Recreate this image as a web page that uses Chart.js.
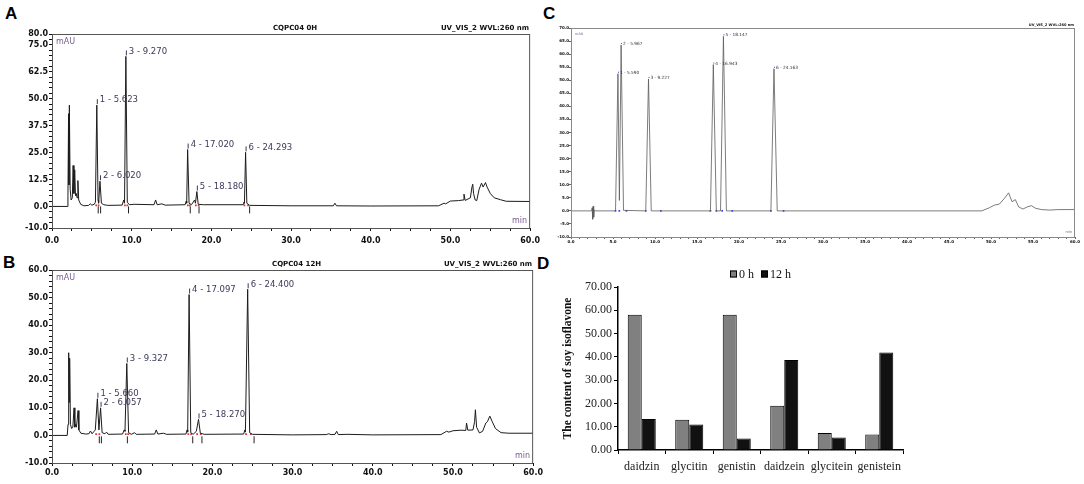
<!DOCTYPE html>
<html>
<head>
<meta charset="utf-8">
<script src="https://cdn.jsdelivr.net/npm/chart.js@4.4.1/dist/chart.umd.min.js"></script>
<style>
  html, body { margin: 0; padding: 0; background: #fff; }
  #fig { position: relative; width: 1084px; height: 484px; overflow: hidden; }
  #fig canvas { position: absolute; }
  .tag { position: absolute; font: bold 17px "Liberation Sans", Arial, sans-serif; line-height: 17px; color: #000; }
</style>
</head>
<body>
<div id="fig">
  <div class="tag" style="left:5px;top:5px">A</div>
  <div class="tag" style="left:3px;top:254px">B</div>
  <div class="tag" style="left:543px;top:5px">C</div>
  <div class="tag" style="left:537px;top:255px">D</div>
  <canvas id="chartA" width="545" height="250" style="left:0;top:0"></canvas>
  <canvas id="chartB" width="545" height="234" style="left:0;top:250px"></canvas>
  <canvas id="chartC" width="539" height="250" style="left:545px;top:0"></canvas>
  <canvas id="chartD" width="375" height="234" style="left:550px;top:250px"></canvas>
</div>
<script>
// ---- A: sample CQPC04 0H, [time (min), signal (mAU)]
const traceA = [
  [0, 0], [1.9, 0], [2.0, 5], [2.08, 43], [2.13, 10], [2.18, 47], [2.28, 8], [2.4, 3],
  [2.55, 4], [2.65, 19], [2.75, 6], [2.85, 17], [2.95, 5], [3.05, 6], [3.15, 4], [3.25, 12],
  [3.35, 3], [3.6, 1], [4.0, 0.3], [4.6, 0.5], [4.8, 1.2], [5.0, 0.6], [5.3, 1], [5.45, 2],
  [5.623, 47], [5.78, 3], [5.85, 1.5], [6.02, 11.7], [6.2, 1.5], [6.5, 0.8], [7.0, 0.5],
  [8.8, 0.6], [9.0, 3], [9.1, 1.5], [9.27, 69.6], [9.45, 2], [9.7, 0.8], [10.3, 1],
  [12.8, 0.8], [13.0, 3], [13.2, 0.8], [13.8, 1.2], [14.2, 0.6], [16.7, 0.8], [16.85, 2.5],
  [16.9, 1.5], [17.02, 26.4], [17.2, 1.5], [17.5, 0.8], [17.9, 3], [18.0, 1.5], [18.18, 6.9],
  [18.35, 1], [19.0, 0.8], [24.0, 0.8], [24.1, 2], [24.15, 1.5], [24.293, 25.1], [24.45, 1.5],
  [24.8, 0.5], [30.0, 0.3], [35.3, 0.3], [35.5, 1.5], [35.7, 0.3], [40.0, 0.2], [48.5, 0.3],
  [49.2, 1.5], [49.4, 1.2], [50.0, 2.5], [51.0, 2.7], [51.6, 3], [51.7, 5.7], [51.85, 2.8],
  [52.5, 4], [52.7, 9], [52.8, 10.3], [52.9, 6], [53.1, 3], [53.3, 2.7], [53.6, 8],
  [53.9, 10.8], [54.1, 9], [54.4, 11.1], [54.6, 9], [55.0, 6], [55.5, 4], [56.3, 3.1],
  [57.0, 2.4], [60.0, 2.3]
];
const peakTimesA = [5.623, 6.020, 9.270, 17.020, 18.180, 24.293];
const peakHeightsA = [47.0, 11.7, 69.6, 26.4, 6.9, 25.1];
const peakEndsA = [5.8, 6.1, 9.6, 17.35, 18.45, 24.8];
const baseMarksA = [5.55, 5.85, 9.15, 9.45, 17.05, 17.3, 18.05, 18.4, 24.15, 24.6];
const yLabelsA = [-10, 0, 12.5, 25, 37.5, 50, 62.5, 75, 80];

// ---- B: sample CQPC04 12H
const traceB = [
  [0, 0], [1.9, 0], [2.0, 4], [2.08, 30], [2.13, 12], [2.2, 28], [2.3, 4], [2.45, 2.5],
  [2.6, 3], [2.75, 10], [2.85, 3], [2.95, 4], [3.05, 3], [3.25, 9], [3.35, 2], [3.6, 0.8],
  [4.2, 0.5], [4.6, 0.6], [4.8, 1.6], [5.0, 0.6], [5.25, 1.5], [5.4, 2], [5.66, 13.3],
  [5.85, 2], [6.057, 10], [6.25, 1], [6.6, 0.6], [6.8, 1.2], [7.0, 0.4], [8.8, 0.5],
  [9.0, 2], [9.1, 1.5], [9.327, 26.1], [9.55, 1], [9.9, 0.4], [10.3, 1], [10.5, 0.4],
  [12.8, 0.5], [13.0, 2], [13.2, 0.5], [13.9, 0.8], [14.3, 0.4], [16.7, 0.5], [16.85, 2],
  [16.92, 1.2], [17.097, 51.1], [17.3, 1], [17.6, 0.4], [18.0, 1.5], [18.27, 5.8], [18.5, 0.8],
  [19.0, 0.4], [23.9, 0.5], [24.05, 2], [24.12, 1.2], [24.4, 53], [24.65, 1], [25.0, 0.4],
  [30.0, 0.2], [34.2, 0.3], [34.5, 0.6], [34.8, 0.3], [35.3, 0.4], [35.5, 1.5], [35.7, 0.3],
  [36.8, 0.4], [40.0, 0.2], [48.5, 0.3], [49.2, 1.5], [49.5, 1.2], [50.0, 1.7], [51.0, 1.9],
  [51.6, 1.8], [51.7, 4.5], [51.85, 1.9], [52.5, 2], [52.7, 5], [52.8, 9.3], [52.95, 3],
  [53.3, 0.9], [53.7, 1.5], [54.1, 4.5], [54.3, 5], [54.6, 7], [54.9, 5], [55.3, 2.5],
  [56.0, 1], [57.0, 0.8], [60.0, 0.8]
];
const peakTimesB = [5.660, 6.057, 9.327, 17.097, 18.270, 24.400];
const peakHeightsB = [13.3, 10.0, 26.1, 51.1, 5.8, 53.0];
const peakEndsB = [5.9, 6.16, 9.4, 17.55, 18.7, 25.2];
const baseMarksB = [5.5, 5.9, 9.2, 9.5, 17.0, 17.35, 18.1, 18.55, 24.2, 24.8];
const yLabelsB = [-10, 0, 10, 20, 30, 40, 50, 60];

// ---- C: standard mixture
const traceC = [
  [0, 0], [2.45, 0], [2.52, 1.2], [2.58, -3.2], [2.64, 1.8], [2.7, -2.4], [2.78, 0.4], [2.9, 0],
  [5.3, 0], [5.59, 52.5], [5.76, 4], [5.967, 63.5], [6.25, 0.2], [8.9, 0], [9.227, 50.5],
  [9.55, 0], [16.6, 0], [16.943, 56.0], [17.3, 0], [17.8, 0], [18.147, 66.8], [18.5, 0],
  [23.8, 0], [24.163, 54.4], [24.55, 0], [48.9, 0], [49.8, 1.2], [50.4, 2.2], [51.0, 2.6],
  [51.6, 4.8], [52.1, 6.9], [52.5, 3.5], [52.9, 4.3], [53.3, 1.5], [53.8, 0.7], [54.3, 1.5],
  [54.8, 2.0], [55.3, 1.0], [56.0, 0.5], [57.0, 0.3], [58.0, 0.5], [60.0, 0.5]
];
const peakTimesC = [5.590, 5.967, 9.227, 16.943, 18.147, 24.163];
const peakHeightsC = [52.5, 63.5, 50.5, 56.0, 66.8, 54.4];
const baseMarksC = [5.3, 5.75, 6.6, 8.9, 10.7, 16.6, 17.3, 18.0, 19.2, 23.8, 25.3];
const yLabelsC = [-10, -5, 0, 5, 10, 15, 20, 25, 30, 35, 40, 45, 50, 55, 60, 65, 70];

const xLabels10 = [0, 10, 20, 30, 40, 50, 60];
const xLabels5 = [0, 5, 10, 15, 20, 25, 30, 35, 40, 45, 50, 55, 60];

// ---- D: isoflavone content
const compounds = ['daidzin', 'glycitin', 'genistin', 'daidzein', 'glycitein', 'genistein'];
const content0h = [58.1, 13.0, 58.1, 19.0, 7.3, 6.7];
const content12h = [13.3, 10.9, 4.9, 38.6, 5.4, 41.9];

const SANS = '"DejaVu Sans", "Liberation Sans", Arial, sans-serif';
const SERIF = '"Liberation Serif", "Times New Roman", serif';

function steps(min, max, step) {
  const out = [];
  for (let v = min; v <= max + 1e-9; v += step) out.push({ value: +v.toFixed(3) });
  return out;
}

// frame, header texts, units and peak labels of the chromatograms
const chromDecor = {
  id: 'chromDecor',
  afterDraw(chart, args, o) {
    const { ctx, chartArea: a, scales: { x, y } } = chart;
    ctx.save();
    ctx.strokeStyle = o.frameColor;
    ctx.lineWidth = 1;
    ctx.strokeRect(a.left + 0.5, a.top + 0.5, a.width - 1, a.height);

    ctx.fillStyle = '#111';
    ctx.font = `bold ${o.headSize}px ${SANS}`;
    ctx.textBaseline = 'bottom';
    if (o.title) {
      ctx.textAlign = 'center';
      ctx.fillText(o.title, x.getPixelForValue(o.titleAt), a.top - o.headGap);
    }
    ctx.textAlign = 'right';
    ctx.fillText('UV_VIS_2 WVL:260 nm', a.right - 1, a.top - o.headGap);

    ctx.fillStyle = '#7a5a8e';
    ctx.font = `${o.unitSize}px ${SANS}`;
    ctx.textAlign = 'left';
    ctx.textBaseline = 'top';
    ctx.fillText('mAU', a.left + 4, a.top + 4);
    ctx.textAlign = 'right';
    ctx.textBaseline = 'bottom';
    ctx.fillText('min', a.right - 3, a.bottom - 3);

    ctx.font = `${o.labelSize}px ${SANS}`;
    ctx.textAlign = 'left';
    ctx.textBaseline = 'middle';
    o.times.forEach((t, i) => {
      const px = x.getPixelForValue(t);
      const py = y.getPixelForValue(o.heights[i]);
      ctx.strokeStyle = o.markColor;
      ctx.beginPath();
      ctx.moveTo(px + 0.5, py - 1);
      ctx.lineTo(px + 0.5, py - o.tick);
      ctx.stroke();
      ctx.fillStyle = o.labelColor;
      ctx.fillText(`${i + 1} - ${t.toFixed(3)}`, px + o.gap, py - o.lift);
    });
    ctx.restore();
  }
};

function chromChart(id, c) {
  const tickFont = { family: SANS, size: c.tickSize, weight: 'bold' };
  return new Chart(document.getElementById(id), {
    type: 'line',
    data: {
      datasets: [
        { data: c.trace.map(([x, y]) => ({ x, y })), borderColor: c.lineColor, borderWidth: c.lineWidth,
          pointRadius: 0, tension: 0 },
        { type: 'scatter', data: c.ends.map(t => ({ x: t, y: -1.6 })), pointStyle: 'line', pointRotation: 90,
          pointRadius: 3.5, pointBorderColor: '#222', pointBorderWidth: 1 },
        { type: 'scatter', data: c.marks.map(t => ({ x: t, y: c.markY })), pointStyle: 'rect',
          pointRadius: c.markSize, pointBackgroundColor: c.markColor, pointBorderWidth: 0 }
      ]
    },
    options: {
      responsive: false,
      animation: false,
      layout: { padding: { left: 0, right: c.padRight, top: c.padTop, bottom: 0 } },
      plugins: {
        legend: { display: false },
        tooltip: { enabled: false },
        chromDecor: {
          frameColor: c.frameColor, title: c.title, titleAt: 30.5, headSize: c.headSize, headGap: c.headGap,
          unitSize: c.unitSize, labelSize: c.labelSize, labelColor: c.labelColor, markColor: c.labelMark,
          times: c.peakTimes, heights: c.peakHeights, tick: c.labelTick, gap: c.labelGap, lift: c.labelLift
        }
      },
      scales: {
        x: {
          type: 'linear', min: 0, max: 60,
          afterBuildTicks: s => { s.ticks = steps(0, 60, c.xStep); },
          afterFit: s => { s.height = c.xHeight; },
          ticks: { autoSkip: false, maxRotation: 0, padding: c.xPad, color: '#111', font: tickFont,
                   callback: v => c.xLabels.includes(v) ? v.toFixed(1) : '' },
          grid: { drawOnChartArea: false, tickLength: c.tickLen, color: c.axisColor },
          border: { color: c.axisColor }
        },
        y: {
          min: c.yMin, max: c.yMax,
          afterBuildTicks: s => { s.ticks = steps(c.yMin, c.yMax, c.yStep); },
          afterFit: s => { s.width = c.yWidth; },
          ticks: { autoSkip: false, padding: c.yPad, color: '#111', font: tickFont,
                   callback: v => c.yLabels.includes(v) ? v.toFixed(1) : '' },
          grid: { drawOnChartArea: false, tickLength: c.tickLen, color: c.axisColor },
          border: { color: c.axisColor }
        }
      }
    },
    plugins: [chromDecor]
  });
}

const sampleStyle = {
  lineColor: '#1c1c1c', lineWidth: 1, frameColor: '#555', axisColor: '#111',
  markY: 0.5, markSize: 1.2, markColor: '#e03030',
  tickSize: 8, headSize: 7, headGap: 2, unitSize: 8, labelSize: 8.5, labelColor: '#3a3a58',
  labelMark: '#3a3a58', labelTick: 6, labelGap: 3, labelLift: 5,
  xStep: 2.5, xLabels: xLabels10, tickLen: 3, yPad: 1, yWidth: 52
};

chromChart('chartA', Object.assign({}, sampleStyle, {
  trace: traceA, ends: peakEndsA, marks: baseMarksA, peakTimes: peakTimesA, peakHeights: peakHeightsA,
  title: 'CQPC04 0H', yMin: -10, yMax: 80, yStep: 2.5, yLabels: yLabelsA,
  padRight: 11, padTop: 34, xHeight: 22, xPad: 5
}));

chromChart('chartB', Object.assign({}, sampleStyle, {
  trace: traceB, ends: peakEndsB, marks: baseMarksB, peakTimes: peakTimesB, peakHeights: peakHeightsB,
  title: 'CQPC04 12H', yMin: -10, yMax: 60, yStep: 2, yLabels: yLabelsB,
  padRight: 10, padTop: 20, xHeight: 21, xPad: 2
}));

chromChart('chartC', {
  trace: traceC, ends: [], marks: baseMarksC, peakTimes: peakTimesC, peakHeights: peakHeightsC,
  lineColor: '#5a5a5a', lineWidth: 0.8, frameColor: '#8a8a8a', axisColor: '#666',
  markY: 0, markSize: 1.2, markColor: '#3b3bff',
  tickSize: 4, headSize: 3.6, headGap: 1.5, unitSize: 3.5, labelSize: 4.3, labelColor: '#333',
  labelMark: '#3b3bff', labelTick: 2, labelGap: 2, labelLift: 1,
  title: '', yMin: -10, yMax: 70, yStep: 5, yLabels: yLabelsC,
  xStep: 1, xLabels: xLabels5, tickLen: 2, yPad: 0, yWidth: 26,
  padRight: 9, padTop: 28, xHeight: 13, xPad: 1
});

// legend drawn above the plot, centred on the chart area
const keyAbove = {
  id: 'keyAbove',
  afterDraw(chart, args, o) {
    const { ctx, chartArea: a } = chart;
    ctx.save();
    ctx.font = `${o.size}px ${SERIF}`;
    ctx.textBaseline = 'middle';
    ctx.textAlign = 'left';
    const items = chart.data.datasets.map(ds => ({ text: ds.label, fill: ds.backgroundColor,
      w: o.box + o.pad + ctx.measureText(ds.label).width }));
    const total = items.reduce((s, it) => s + it.w, 0) + o.spacing * (items.length - 1);
    let cx = (a.left + a.right) / 2 - total / 2;
    const cy = a.top - o.lift;
    items.forEach(it => {
      ctx.fillStyle = it.fill;
      ctx.fillRect(cx, cy - o.box / 2, o.box, o.box);
      ctx.strokeStyle = '#000';
      ctx.lineWidth = 1;
      ctx.strokeRect(cx + 0.5, cy - o.box / 2 + 0.5, o.box - 1, o.box - 1);
      ctx.fillStyle = '#111';
      ctx.fillText(it.text, cx + o.box + o.pad, cy + 1);
      cx += it.w + o.spacing;
    });
    ctx.restore();
  }
};

new Chart(document.getElementById('chartD'), {
  type: 'bar',
  data: {
    labels: compounds,
    datasets: [
      { label: '0 h', data: content0h, backgroundColor: '#808080', borderColor: '#000', borderWidth: 1 },
      { label: '12 h', data: content12h, backgroundColor: '#111111', borderColor: '#000', borderWidth: 1 }
    ]
  },
  options: {
    responsive: false,
    animation: false,
    layout: { padding: { left: 0, right: 22, top: 37, bottom: 0 } },
    datasets: { bar: { categoryPercentage: 0.59, barPercentage: 1 } },
    plugins: {
      legend: { display: false },
      tooltip: { enabled: false },
      keyAbove: { size: 12, box: 7, pad: 2, spacing: 7, lift: 13 }
    },
    scales: {
      x: {
        afterFit: s => { s.height = 34; },
        ticks: { color: '#222', font: { family: SERIF, size: 12 }, padding: 6, maxRotation: 0, autoSkip: false },
        grid: { drawOnChartArea: false, offset: true, tickLength: 4, color: '#000' },
        border: { color: '#000', width: 1.5 }
      },
      y: {
        min: 0, max: 70,
        afterFit: s => { s.width = 68; },
        ticks: { stepSize: 10, color: '#222', font: { family: SERIF, size: 12 }, padding: 2,
                 callback: v => v.toFixed(2) },
        grid: { drawOnChartArea: false, tickLength: 4, color: '#000' },
        border: { color: '#000', width: 1.5 },
        title: { display: true, text: 'The content of soy isoflavone', color: '#111',
                 font: { family: SERIF, size: 11.5, weight: 'bold' }, padding: { top: 11, bottom: 0 } }
      }
    }
  },
  plugins: [keyAbove]
});
</script>
</body>
</html>
